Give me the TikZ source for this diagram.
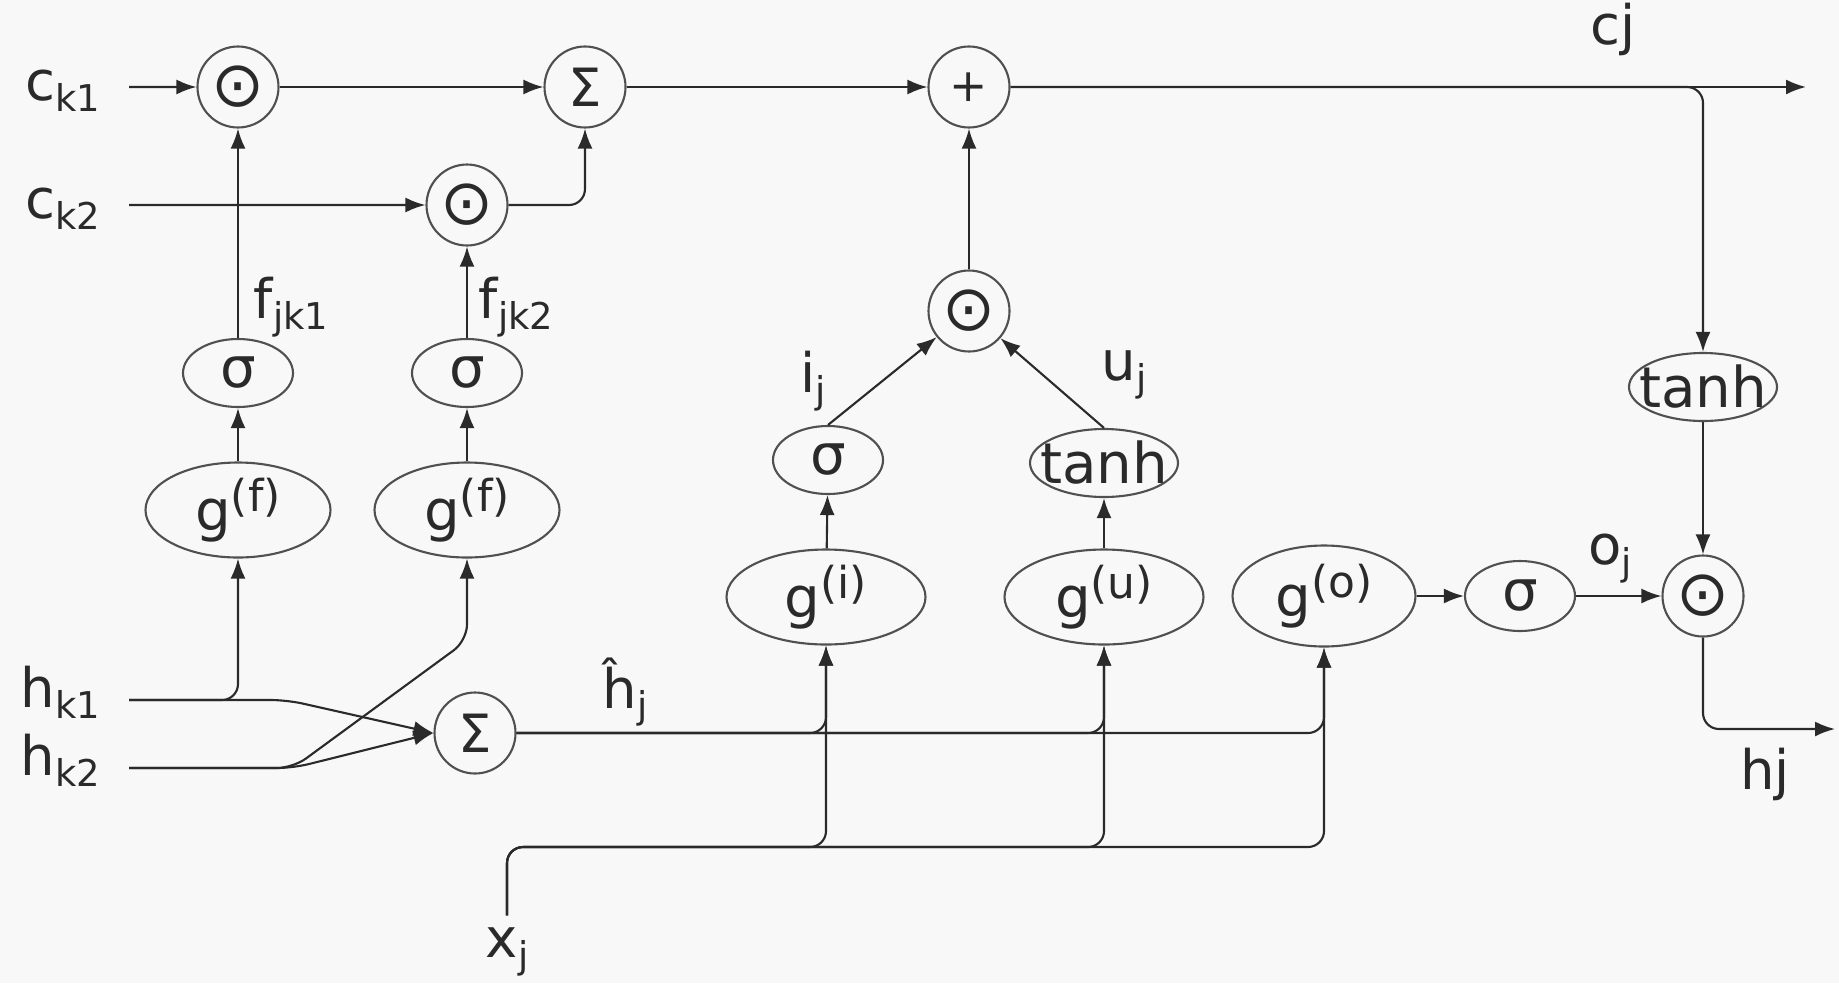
\documentclass[tikz,border=0pt]{standalone}
\usepackage{fontspec}
\setmainfont{DejaVu Sans}
\usetikzlibrary{positioning,arrows.meta,shapes.geometric,calc}
\definecolor{paper}{HTML}{F8F8F8}
\definecolor{rim}{HTML}{505050}
\definecolor{ink}{HTML}{2A2A2A}
\newcommand{\subs}[1]{\raisebox{-0.2em}{\fontsize{10.5}{12}\selectfont #1}}
\newcommand{\fitin}[1]{\makebox[0pt]{#1}}
\newcommand{\gx}[1]{\makebox[0pt]{g\raisebox{5.5pt}{\fontsize{12.5}{14}\selectfont(#1)}}}

\begin{document}
\begin{tikzpicture}[x=1cm,y=1cm,
    every node/.style={font=\fontsize{15.5}{19}\selectfont,text=ink},
    op/.style={circle,draw=rim,line width=0.6pt,minimum size=0.81cm,inner sep=0pt,font=\fontsize{18}{20}\selectfont},
    sumop/.style={op,font=\fontsize{15}{17}\selectfont},
    fn/.style={ellipse,draw=rim,line width=0.6pt,inner sep=0pt,minimum width=#1,minimum height=0.68cm,font=\fontsize{16}{19}\selectfont},
    fn/.default=1.1cm,
    gate/.style={fn=#1,minimum height=0.95cm},
    gate/.default=1.85cm,
    lbl/.style={inner xsep=8pt},
    wire/.style={draw=ink,line width=0.6pt,rounded corners=1.6mm,-{Latex[length=2mm,width=1.5mm]}}]
  % canvas
  \useasboundingbox (0,0) rectangle (18.39,9.83);
  \fill[paper] (0,0) rectangle (18.39,9.83);

  % Cell state path
  \node[op] (mulk1) at (2.38,8.96) {⊙};
  \node[sumop] (sumc) at (5.85,8.96) {Σ};
  \node[op,font=\fontsize{13}{15}\selectfont] (addc) at (9.69,8.96) {+};
  \node[op] (mulk2) at (4.67,7.78) {⊙};
  \node[lbl,anchor=east] (ck1) at (1.29,8.92) {c\subs{k1}};
  \node[lbl,anchor=east] (ck2) at (1.29,7.74) {c\subs{k2}};
  \node (cj) at (16.13,9.54) {cj};
  \coordinate (cout) at (18.06,8.96);

  % Forget gates, one per child
  \foreach \k/\x in {1/2.38,2/4.67} {
    \node[fn] (sigf\k) at (\x,6.10) {σ};
    \node[gate] (gf\k) at (\x,4.73) {\gx{f}};
    \draw[wire] (gf\k) -- (sigf\k);
    \draw[wire] (sigf\k) -- (mulk\k);
  }
  \node (fjk1) at (2.91,6.76) {f\subs{jk1}};
  \node (fjk2) at (5.16,6.76) {f\subs{jk2}};

  % Input and update gates
  \node[op] (mulm) at (9.69,6.72) {⊙};
  \node[fn] (sigi) at (8.28,5.23) {σ};
  \node[fn=1.48cm] (tanhu) at (11.04,5.20) {\fitin{tanh}};
  \node[gate=1.99cm] (gi) at (8.26,3.86) {\gx{i}};
  \node[gate=1.99cm] (gu) at (11.04,3.86) {\gx{u}};
  \node (ij) at (8.13,6.02) {i\subs{j}};
  \node (uj) at (11.24,6.08) {u\subs{j}};

  % Output gate
  \node[gate=1.83cm,minimum height=1.01cm] (go) at (13.24,3.87) {\gx{o}};
  \node[fn,minimum height=0.70cm] (sigo) at (15.20,3.87) {σ};
  \node[op] (mulo) at (17.03,3.87) {⊙};
  \node[fn=1.48cm] (tanhc) at (17.03,5.96) {\fitin{tanh}};
  \node (oj) at (16.10,4.24) {o\subs{j}};
  \node (hj) at (17.65,2.09) {hj};
  \coordinate (hout) at (18.35,2.54);

  % Child hidden states, their sum and the input
  \node[sumop] (sumh) at (4.75,2.50) {Σ};
  \node[lbl,anchor=east] (hk1) at (1.29,2.91) {h\subs{k1}};
  \node[lbl,anchor=east] (hk2) at (1.29,2.23) {h\subs{k2}};
  \node (hhat) at (6.25,2.91) {ĥ\subs{j}};
  \node (xj) at (5.07,0.31) {x\subs{j}};
  \coordinate (xbus) at (0,1.36);

  % Cell state wires
  \draw[wire] ([yshift=0.04cm]ck1.east) -- (mulk1);
  \draw[wire] ([yshift=0.04cm]ck2.east) -- (mulk2);
  \draw[wire] (mulk1) -- (sumc);
  \draw[wire] (mulk2) -| (sumc);
  \draw[wire] (sumc) -- (addc);
  \draw[wire] (mulm) -- (addc);
  \draw[wire] (addc) -- (cout);
  \draw[wire] (addc) -| (tanhc);
  % Gate wires
  \draw[wire] (sigi.north) -- (mulm);
  \draw[wire] (tanhu.north) -- (mulm);
  \draw[wire] (gi) -- (sigi);
  \draw[wire] (gu) -- (tanhu);
  \draw[wire] (go) -- (sigo);
  \draw[wire] (sigo) -- (mulo);
  \draw[wire] (tanhc) -- (mulo);
  \draw[wire] (mulo) |- (hout);
  % Hidden state wires
  \draw[wire] ([yshift=-0.08cm]hk1.east) -| (gf1);
  \draw[wire] ([yshift=-0.08cm]hk1.east) -- ++(1.58,0) -- (sumh.west);
  \draw[wire] ([yshift=-0.08cm]hk2.east) -- ++(1.64,0) -- (sumh.west);
  \draw[wire] ([yshift=-0.08cm]hk2.east) -- ++(1.64,0) -- ([yshift=-0.82cm]gf2.south) -- (gf2);
  \foreach \g in {gi,gu,go} {
    \draw[wire] (sumh) -| (\g);
    \draw[wire] (xj) |- (xbus -| \g) -- (\g);
  }
\end{tikzpicture}
\end{document}
